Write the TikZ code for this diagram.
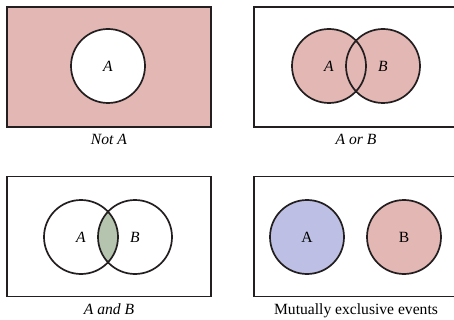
\documentclass[tikz,border=0pt]{standalone}
\usepackage{fontspec}
\setmainfont{Liberation Serif}
\usepackage{xcolor}
\usetikzlibrary{positioning}
\definecolor{pinkset}{RGB}{227,183,179}
\definecolor{blueset}{RGB}{189,192,228}
\definecolor{greenset}{RGB}{181,196,174}
\definecolor{edgeline}{RGB}{35,31,32}

\begin{document}
\begin{tikzpicture}[x=1pt, y=-1pt,
    every node/.style={font=\fontsize{15.6}{18}\selectfont},
    panel/.style={draw=edgeline, line width=1.7pt, minimum width=204pt, minimum height=120pt, inner sep=0pt},
    set/.style={circle, draw=edgeline, line width=1.7pt, minimum size=74pt, inner sep=0pt}]
    \useasboundingbox (0,0) rectangle (454,320);
    \clip (0,0) rectangle (454,320);
    % Not A
    \node[panel, fill=pinkset] (p1) at (109,67) {};
    \node[set, fill=white] (a1) at (108,66) {\textit{A}};
    \node[below=3pt of p1] (c1) {\textit{Not A}};
    % A or B
    \node[panel] (p2) at (356,67) {};
    \fill[pinkset] (329,66) circle (37pt) (383,66) circle (37pt);
    \node[set] (a2) at (329,66) {\textit{A}};
    \node[set] (b2) at (383,66) {\textit{B}};
    \node[below=3pt of p2] (c2) {\textit{A or B}};
    % A and B
    \node[panel] (p3) at (109,236.5) {};
    \begin{scope}
        \clip (81,237) circle (37pt);
        \fill[greenset] (135,237) circle (37pt);
    \end{scope}
    \node[set] (a3) at (81,237) {\textit{A}};
    \node[set] (b3) at (135,237) {\textit{B}};
    \node[below=3pt of p3] (c3) {\textit{A and B}};
    % mutually exclusive
    \node[panel] (p4) at (356,236.5) {};
    \node[set, fill=blueset] (a4) at (307,237) {A};
    \node[set, fill=pinkset] (b4) at (404,237) {B};
    \node[below=3pt of p4] (c4) {Mutually exclusive events};
\end{tikzpicture}
\end{document}
